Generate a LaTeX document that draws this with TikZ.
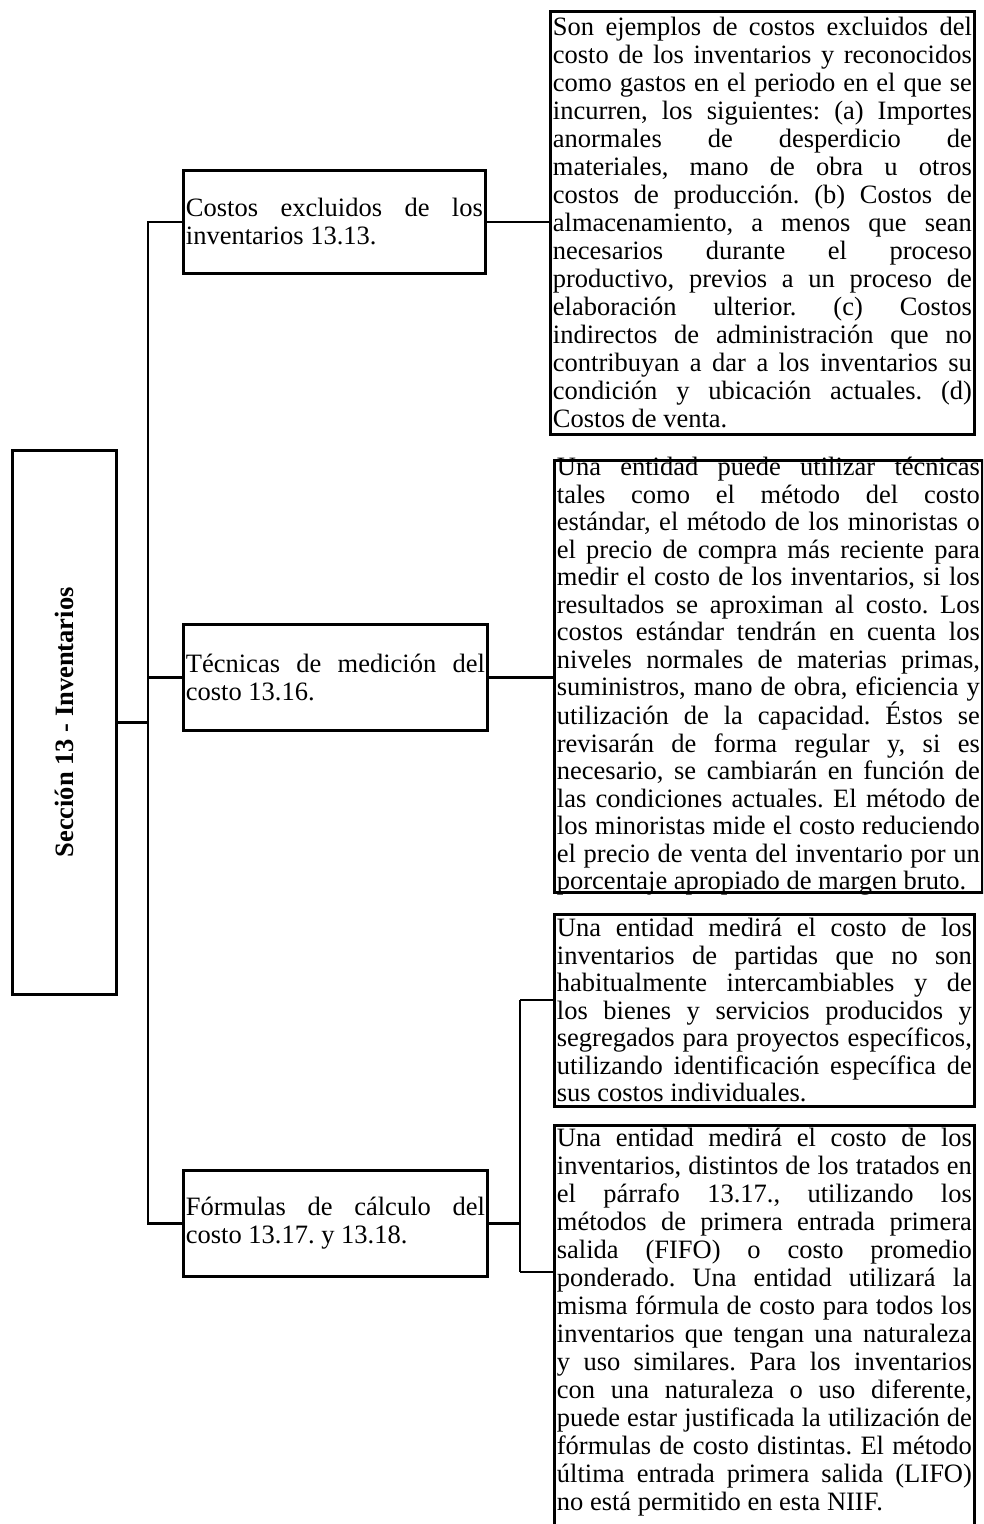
\documentclass[tikz,border=0pt]{standalone}
\usepackage{fontspec}
\setmainfont{Liberation Serif}
\newcommand{\fs}{\fontsize{26.5pt}{28pt}\selectfont\frenchspacing}
\newcommand{\jl}[1]{\makebox[\linewidth][s]{#1}\par}
\newcommand{\bxc}[3]{\parbox[c][#2][c]{#1}{\fs #3}}
\tikzset{
  box/.style={draw, line width=2.8pt, inner xsep=2.5pt, inner ysep=0pt, anchor=north west},
  link/.style={line width=2.8pt},
}
\begin{document}
\begin{tikzpicture}[x=1pt,y=-1pt]
\useasboundingbox (0,0) rectangle (983,1524);
\begin{scope}
\clip (0,0) rectangle (983,1524);
% root
\node[box, minimum width=104pt, minimum height=544pt, inner sep=0pt] (root) at (11,449)
  {\rotatebox{90}{\fs\bfseries Sección 13 - Inventarios}};
% level 1
\node[box] (b1) at (182,169) {\bxc{297pt}{103pt}{\jl{Costos excluidos de los}inventarios 13.13.}};
\node[box] (b2) at (182,623) {\bxc{299pt}{106pt}{\jl{Técnicas de medición del}costo 13.16.}};
\node[box] (b3) at (182,1169) {\bxc{299pt}{106pt}{\jl{Fórmulas de cálculo del}costo 13.17. y 13.18.}};
% details
\node[box] (d1) at (549,10) {\bxc{419pt}{423pt}{%
\jl{Son ejemplos de costos excluidos del}
\jl{costo de los inventarios y reconocidos}
\jl{como gastos en el periodo en el que se}
\jl{incurren, los siguientes: (a) Importes}
\jl{anormales de desperdicio de}
\jl{materiales, mano de obra u otros}
\jl{costos de producción. (b) Costos de}
\jl{almacenamiento, a menos que sean}
\jl{necesarios durante el proceso}
\jl{productivo, previos a un proceso de}
\jl{elaboración ulterior. (c) Costos}
\jl{indirectos de administración que no}
\jl{contribuyan a dar a los inventarios su}
\jl{condición y ubicación actuales. (d)}
Costos de venta.}};
\node[box] (d2) at (553,459) {\bxc{423pt}{432pt}{\baselineskip=27.5pt
\jl{Una entidad puede utilizar técnicas}
\jl{tales como el método del costo}
\jl{estándar, el método de los minoristas o}
\jl{el precio de compra más reciente para}
\jl{medir el costo de los inventarios, si los}
\jl{resultados se aproximan al costo. Los}
\jl{costos estándar tendrán en cuenta los}
\jl{niveles normales de materias primas,}
\jl{suministros, mano de obra, eficiencia y}
\jl{utilización de la capacidad. Éstos se}
\jl{revisarán de forma regular y, si es}
\jl{necesario, se cambiarán en función de}
\jl{las condiciones actuales. El método de}
\jl{los minoristas mide el costo reduciendo}
\jl{el precio de venta del inventario por un}
porcentaje apropiado de margen bruto.}};
\node[box] (d3) at (553,913) {\bxc{415pt}{192pt}{\baselineskip=27.5pt
\jl{Una entidad medirá el costo de los}
\jl{inventarios de partidas que no son}
\jl{habitualmente intercambiables y de}
\jl{los bienes y servicios producidos y}
\jl{segregados para proyectos específicos,}
\jl{utilizando identificación específica de}
sus costos individuales.}};
\node[box] (d4) at (553,1124) {\parbox[c][450pt][t]{415pt}{\fs\vspace*{3pt}
\jl{Una entidad medirá el costo de los}
\jl{inventarios, distintos de los tratados en}
\jl{el párrafo 13.17., utilizando los}
\jl{métodos de primera entrada primera}
\jl{salida (FIFO) o costo promedio}
\jl{ponderado. Una entidad utilizará la}
\jl{misma fórmula de costo para todos los}
\jl{inventarios que tengan una naturaleza}
\jl{y uso similares. Para los inventarios}
\jl{con una naturaleza o uso diferente,}
\jl{puede estar justificada la utilización de}
\jl{fórmulas de costo distintas. El método}
\jl{última entrada primera salida (LIFO)}
no está permitido en esta NIIF.}};
% connectors
\coordinate (t) at (148,721);
\coordinate (j3) at (520,1000);
\coordinate (j4) at (520,1272);
\draw[link] (root.east) -- (root.east -| t);
\draw[link] (b1.west) -- (b1.west -| t) -- (b3.west -| t) -- (b3.west);
\draw[link] (b2.west -| t) -- (b2.west);
\draw[link] (b1.east) -- (b1.east -| d1.west);
\draw[link] (b2.east) -- (b2.east -| d2.west);
\draw[link] (b3.east) -- (b3.east -| j3);
\draw[link] (j3) -- (j4);
\draw[link] (j3) -- (j3 -| d3.west);
\draw[link] (j4) -- (j4 -| d4.west);
\end{scope}
\end{tikzpicture}
\end{document}
